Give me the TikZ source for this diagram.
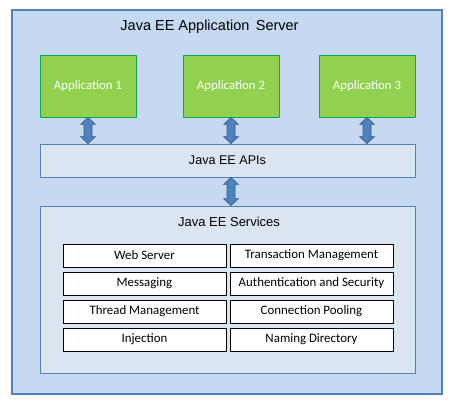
\documentclass[tikz,border=0pt]{standalone}
\usepackage{fontspec}
\setmainfont{Carlito}
\newfontfamily\arialf{Liberation Sans}
\usetikzlibrary{calc}
\definecolor{outerfill}{HTML}{C6D9F0}
\definecolor{officeblue}{HTML}{4F81BD}
\definecolor{arrowline}{HTML}{385D8A}
\definecolor{appfill}{HTML}{92D050}
\definecolor{appline}{HTML}{00B050}
\definecolor{layerfill}{HTML}{DBE5F1}
\tikzset{
  outerbox/.style={draw=officeblue, fill=outerfill, line width=1.6pt, minimum width=430pt, minimum height=384pt, inner sep=0pt},
  appbox/.style={draw=appline, fill=appfill, line width=0.9pt, minimum width=96pt, minimum height=62pt, text=white, font=\fontsize{12.8}{14}\selectfont, inner sep=0pt},
  layerbox/.style={draw=officeblue, fill=layerfill, line width=0.8pt, minimum width=375pt, inner sep=0pt},
  svcbox/.style={draw=black, fill=white, line width=0.8pt, minimum width=163pt, minimum height=23pt, font=\fontsize{12.9}{14}\selectfont, inner sep=0pt},
  arr/.style={fill=officeblue, draw=arrowline, line width=0.6pt, line join=miter},
}
\newcommand\dblarrow[3]{%
  \filldraw[arr] let \p1=(#1), \p2=(#2.south), \p3=(#3.north) in
    (\x1,\y2) -- (\x1+7.5pt,\y2-7pt) -- (\x1+4pt,\y2-7pt) -- (\x1+4pt,\y3+7pt) -- (\x1+7.5pt,\y3+7pt)
    -- (\x1,\y3) -- (\x1-7.5pt,\y3+7pt) -- (\x1-4pt,\y3+7pt) -- (\x1-4pt,\y2-7pt) -- (\x1-7.5pt,\y2-7pt) -- cycle;}
\begin{document}
\begin{tikzpicture}[x=1pt,y=-1pt]
\useasboundingbox (0,0) rectangle (457,411);
\node[outerbox] (server) at (227,202) {};
\node[font=\arialf\fontsize{14.5}{16}\selectfont] (title) at (209.5,27) {Java EE Application\ \,Server};
\node[appbox] (app1) at (88,86) {Application 1};
\node[appbox] (app2) at (231,86) {Application 2};
\node[appbox] (app3) at (367,86) {Application 3};
\node[layerbox, minimum height=33pt, font=\arialf\fontsize{12.6}{14}\selectfont] (apis) at (227.5,160.5) {Java EE APIs};
\node[layerbox, minimum height=167pt] (services) at (227.5,289.5) {};
\node[font=\arialf\fontsize{13}{15}\selectfont] (svctitle) at (229,222) {Java EE Services};
\node[svcbox] (web) at (144.5,255.5) {Web Server};
\node[svcbox] (msg) at (144.5,283.5) {Messaging};
\node[svcbox] (thread) at (144.5,311.5) {Thread Management};
\node[svcbox] (inj) at (144.5,339.5) {Injection};
\node[svcbox] (trans) at (311.5,255.5) {Transaction Management};
\node[svcbox] (auth) at (311.5,283.5) {Authentication and Security};
\node[svcbox] (conn) at (311.5,311.5) {Connection Pooling};
\node[svcbox] (naming) at (311.5,339.5) {Naming Directory};
\dblarrow{app1}{app1}{apis}
\dblarrow{app2}{app2}{apis}
\dblarrow{app3}{app3}{apis}
\dblarrow{app2}{apis}{services}
\end{tikzpicture}
\end{document}
